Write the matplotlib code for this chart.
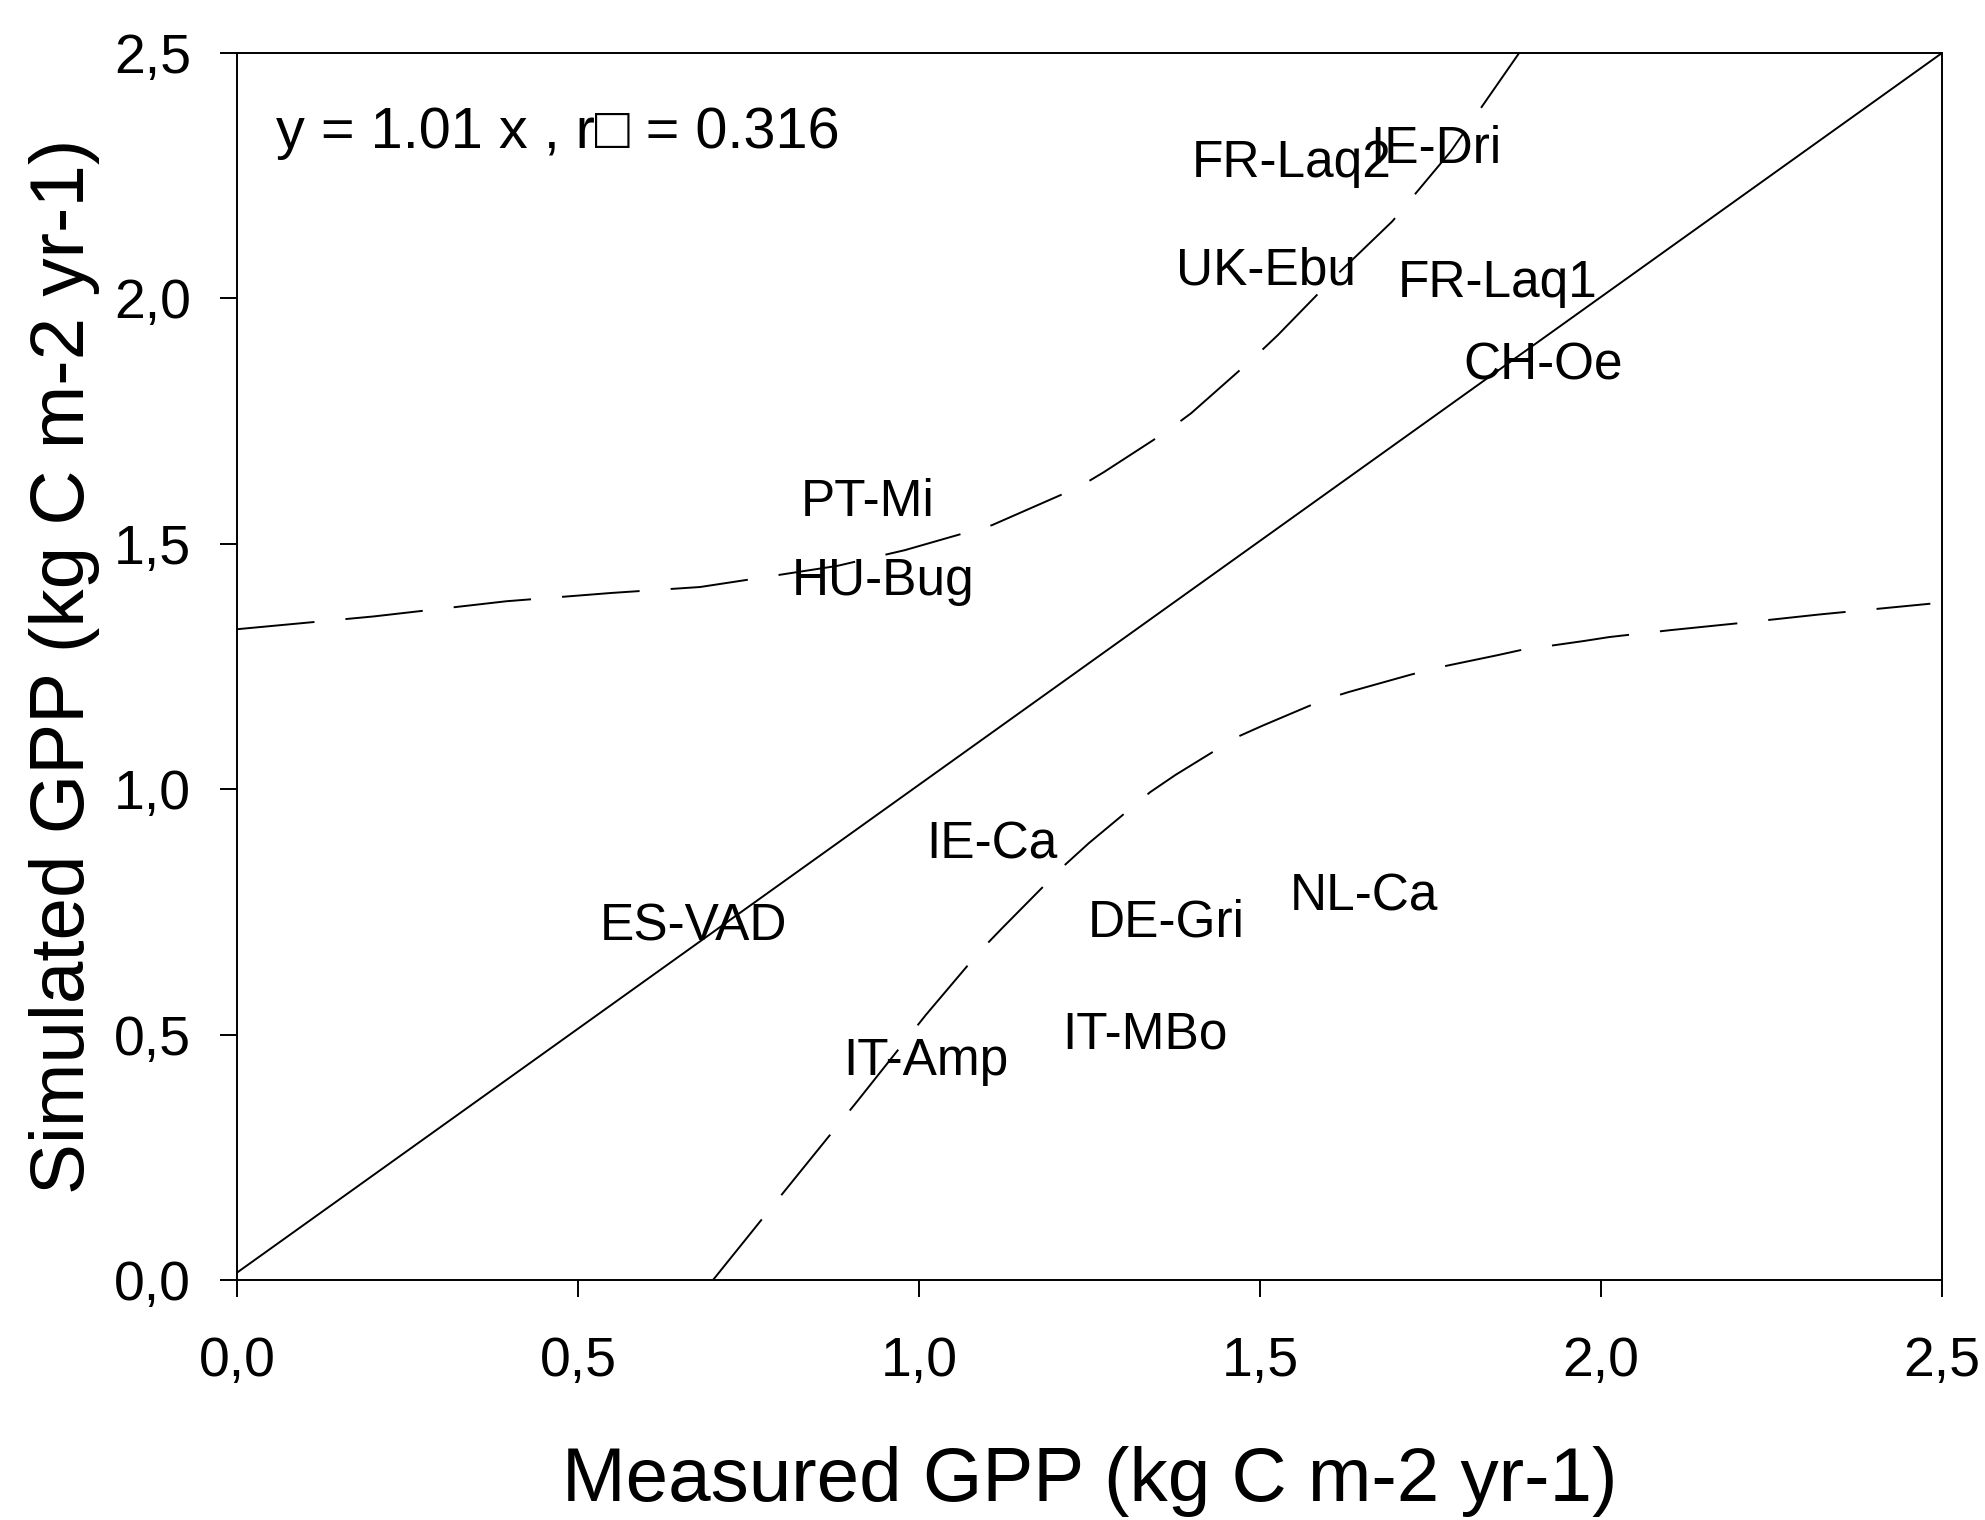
import matplotlib
matplotlib.use("agg")
from matplotlib import pyplot as plt
import numpy as np

plt.rcParams['font.family'] = ['Liberation Sans', 'DejaVu Sans']

# site labels (baseline position)
sites = ["FR-Laq2", "IE-Dri", "UK-Ebu", "FR-Laq1", "CH-Oe", "PT-Mi", "HU-Bug",
         "IE-Ca", "NL-Ca", "ES-VAD", "DE-Gri", "IT-MBo", "IT-Amp"]
measured = [1.546, 1.758, 1.509, 1.848, 1.915, 0.925, 0.947,
            1.107, 1.652, 0.669, 1.362, 1.331, 1.010]
simulated = [2.247, 2.276, 2.028, 2.002, 1.834, 1.556, 1.396,
             0.859, 0.753, 0.691, 0.699, 0.472, 0.418]

# fitted line
fit_x = [0.0, 2.5]
fit_y = [0.015, 2.5]

# prediction band, upper and lower
upper_x = [0.0, 0.2, 0.395, 0.55, 0.679, 0.764, 0.88, 0.979, 1.107, 1.235, 1.271,
           1.362, 1.399, 1.491, 1.526, 1.608, 1.694, 1.78, 1.88]
upper_y = [1.326, 1.352, 1.383, 1.400, 1.412, 1.430, 1.455, 1.487, 1.538, 1.616, 1.646,
           1.728, 1.766, 1.879, 1.925, 2.042, 2.157, 2.30, 2.5]
lower_x = [0.698, 0.804, 0.91, 1.010, 1.088, 1.122, 1.211, 1.249, 1.339, 1.376,
           1.466, 1.503, 1.593, 1.630, 1.720, 1.758, 1.848, 1.884, 1.975, 2.012,
           2.101, 2.20, 2.32, 2.483]
lower_y = [0.0, 0.183, 0.365, 0.540, 0.668, 0.717, 0.842, 0.890, 0.994, 1.029,
           1.106, 1.129, 1.182, 1.198, 1.233, 1.247, 1.273, 1.284, 1.302, 1.310,
           1.324, 1.338, 1.356, 1.378]

ticks = [0.0, 0.5, 1.0, 1.5, 2.0, 2.5]
tick_labels = ["0,0", "0,5", "1,0", "1,5", "2,0", "2,5"]

fig = plt.figure(figsize=(19.85, 15.2), dpi=100)
ax = fig.add_axes([0.1194, 0.1579, 0.8589, 0.8072])

ax.plot(fit_x, fit_y, color='black', lw=1.4)
ax.plot(upper_x, upper_y, color='black', lw=1.4, dashes=(40, 16))
ax.plot(lower_x, lower_y, color='black', lw=1.4, dashes=(40, 16))

for s, x, y in zip(sites, measured, simulated):
    ax.text(x, y, s, ha='center', va='baseline', fontsize=37)

ax.text(0.0575, 2.306, "y = 1.01 x , r\u25a1 = 0.316", ha='left', va='baseline',
        fontsize=41.5)

ax.set_xlim(0, 2.5)
ax.set_ylim(0, 2.5)
ax.set_xticks(ticks)
ax.set_xticklabels(tick_labels)
ax.set_yticks(ticks)
ax.set_yticklabels(tick_labels)
ax.tick_params(direction='out', length=12, width=1.4, labelsize=40, pad=21,
               top=False, right=False)
ax.tick_params(axis='x', pad=28)
for sp in ax.spines.values():
    sp.set_linewidth(1.4)

ax.set_xlabel("Measured GPP (kg C m-2 yr-1)", fontsize=55, labelpad=42)
ax.set_ylabel("Simulated GPP (kg C m-2 yr-1)", fontsize=55, labelpad=10)

fig.savefig("out.png")
